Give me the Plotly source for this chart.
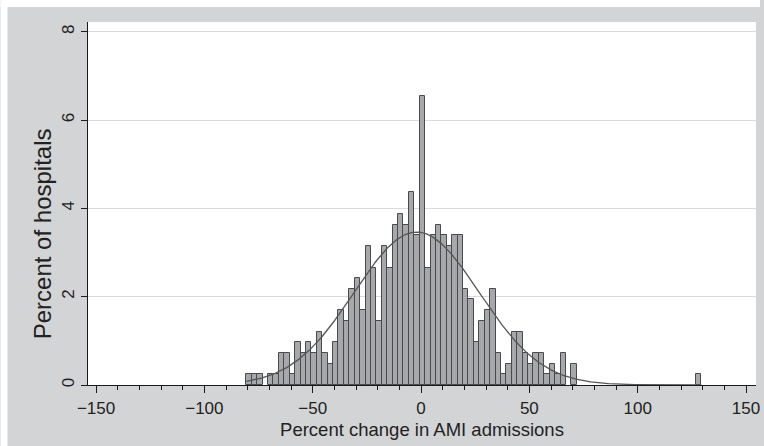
import numpy as np
import plotly.graph_objects as go

# Histogram bins of the percent change: left edge of the first bin and bin width
bin_start = -80.6
bin_width = 2.5

# Percent of hospitals falling in each bin, left to right
pct = [
    0.24, 0.24, 0.24, 0.00, 0.24, 0.24, 0.73, 0.73, 0.24, 0.97,
    0.73, 0.97, 0.73, 1.21, 0.73, 0.48, 0.97, 1.69, 1.45, 2.18,
    2.42, 1.69, 3.15, 2.66, 1.45, 3.15, 2.66, 3.63, 3.87, 3.63,
    4.36, 3.39, 6.54, 2.66, 3.39, 3.63, 3.39, 3.15, 3.39, 3.39,
    2.18, 1.94, 0.97, 1.45, 1.69, 2.18, 0.73, 0.24, 0.48, 1.21,
    1.21, 0.73, 0.48, 0.73, 0.73, 0.24, 0.48, 0.24, 0.73, 0.00,
    0.48, 0.00, 0.00, 0.00, 0.00, 0.00, 0.00, 0.00, 0.00, 0.00,
    0.00, 0.00, 0.00, 0.00, 0.00, 0.00, 0.00, 0.00, 0.00, 0.00,
    0.00, 0.00, 0.00, 0.24,
]

# Fitted normal curve (mean and standard deviation of the percent change)
norm_mean = -2.0
norm_sd = 28.8

# Axis ticks
x_ticks = [-150, -100, -50, 0, 50, 100, 150]
y_ticks = [0, 2, 4, 6, 8]

W, H = 764, 446
ML, MR, MT, MB = 88, 4, 22, 61
PW, PH = W - ML - MR, H - MT - MB

FONT = "Liberation Sans, Arial, Helvetica, sans-serif"
OUTER = "#d3d4d6"
AXIS = "#1a1a1a"

centers = [bin_start + bin_width * (i + 0.5) for i in range(len(pct))]
bx = [c for c, v in zip(centers, pct) if v > 0]
by = [v for v in pct if v > 0]

data_lo = bin_start
data_hi = bin_start + bin_width * len(pct)
cx = np.linspace(data_lo, data_hi, 600)
cy = 100 * bin_width * np.exp(-0.5 * ((cx - norm_mean) / norm_sd) ** 2) / (norm_sd * np.sqrt(2 * np.pi))

fig = go.Figure()
fig.add_trace(go.Bar(
    x=bx, y=by, width=bin_width,
    marker=dict(color="#a7a8ac", line=dict(color="#4a4a4a", width=1)),
    hoverinfo="skip", showlegend=False,
))
fig.add_trace(go.Scatter(
    x=cx, y=cy, mode="lines",
    line=dict(color="#555555", width=1.3),
    hoverinfo="skip", showlegend=False,
))

# pixel -> paper conversions for items placed in the margins
fx = lambda px: (px - ML) / PW
fy = lambda py: (H - MB - py) / PH

# thin white border along the top and left edges of the page
shapes = [
    dict(type="rect", xref="paper", yref="paper", x0=fx(0), x1=fx(W), y0=fy(7), y1=fy(0),
         fillcolor="white", line=dict(width=0), layer="above"),
    dict(type="rect", xref="paper", yref="paper", x0=fx(0), x1=fx(7), y0=fy(H), y1=fy(0),
         fillcolor="white", line=dict(width=0), layer="above"),
]

# y-axis title, set as a rotated label in the left margin
annotations = [
    dict(text="Percent of hospitals", xref="paper", yref="paper",
         x=fx(42), y=fy(234), xanchor="center", yanchor="middle",
         textangle=-90, showarrow=False, font=dict(size=24)),
]

fig.update_layout(
    width=W, height=H,
    margin=dict(l=ML, r=MR, t=MT, b=MB, pad=0),
    paper_bgcolor=OUTER, plot_bgcolor="white",
    font=dict(family=FONT, size=17, color="#222222"),
    bargap=0, shapes=shapes, annotations=annotations,
    xaxis=dict(
        range=[-153.7, 154.6], tickvals=x_ticks,
        ticks="outside", ticklen=7, tickwidth=1.2, tickcolor=AXIS,
        minor=dict(dtick=10, tick0=0, ticks="outside", ticklen=4, tickwidth=1.2, tickcolor=AXIS, showgrid=False),
        showline=True, linecolor=AXIS, linewidth=1.2,
        showgrid=False, zeroline=False,
        tickfont=dict(size=17), ticklabeloverflow="allow",
        title=dict(text="Percent change in AMI admissions", font=dict(size=18.5), standoff=6),
    ),
    yaxis=dict(
        range=[0, 8.22], tickvals=y_ticks, tickangle=-90,
        ticks="outside", ticklen=6, tickwidth=1.2, tickcolor=AXIS,
        showline=True, linecolor=AXIS, linewidth=1.2,
        showgrid=True, gridcolor="#dadada", gridwidth=1.2, zeroline=False,
        tickfont=dict(size=17),
    ),
)

fig.write_html("out.html")
